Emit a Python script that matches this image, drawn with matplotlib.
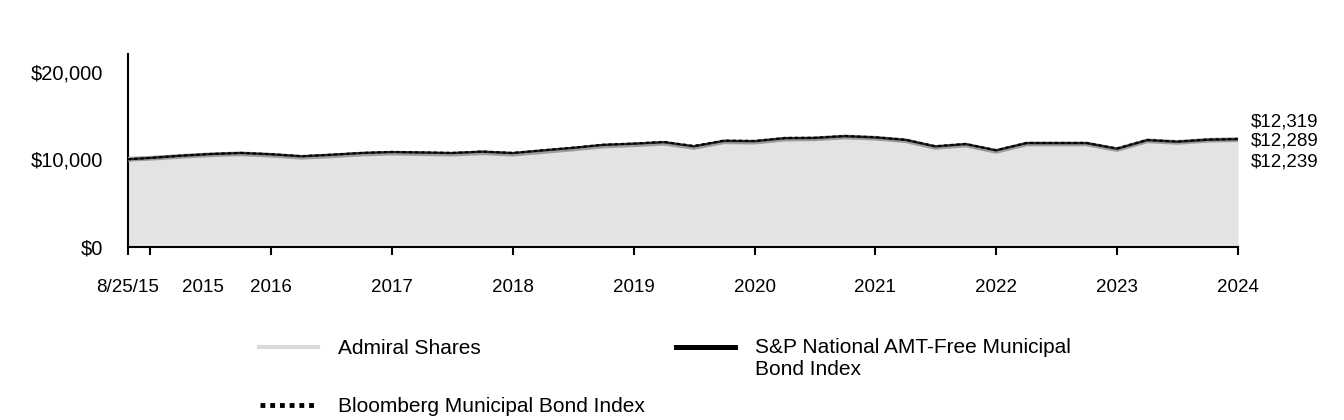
import matplotlib
matplotlib.use('Agg')
import matplotlib.pyplot as plt
import matplotlib.dates as mdates
from matplotlib.lines import Line2D
import pandas as pd

plt.rcParams['font.family'] = ['Liberation Sans', 'DejaVu Sans']

# growth of $10,000, quarterly (fiscal year ends Oct 31)
dates = pd.to_datetime(['2015-08-25']).append(
    pd.date_range('2015-10-31', '2024-10-31', freq='3ME'))

admiral = [10000, 10110, 10330, 10510, 10620, 10460, 10230, 10390, 10590, 10700,
           10640, 10580, 10740, 10580, 10880, 11170, 11510, 11650, 11830, 11350,
           11990, 11950, 12300, 12330, 12540, 12400, 12110, 11350, 11620, 10900,
           11740, 11745, 11750, 11110, 12100, 11920, 12160, 12239]
sp_amt = [10000, 10150, 10395, 10590, 10712, 10560, 10335, 10505, 10708, 10820,
          10762, 10703, 10860, 10700, 11005, 11290, 11630, 11765, 11945, 11470,
          12090, 12055, 12395, 12420, 12625, 12480, 12195, 11455, 11720, 11010,
          11835, 11835, 11835, 11195, 12175, 11995, 12222, 12289]
bloomberg = [10000, 10159, 10409, 10603, 10728, 10581, 10353, 10523, 10728, 10842,
             10785, 10728, 10887, 10728, 11035, 11320, 11661, 11798, 11979, 11525,
             12138, 12093, 12434, 12457, 12662, 12515, 12230, 11490, 11752, 11035,
             11866, 11866, 11866, 11229, 12207, 12025, 12252, 12319]

tick_years = list(range(2015, 2025))
tick_labels = ['8/25/15', '', '2016', '2017', '2018', '2019', '2020', '2021', '2022', '2023', '2024']
y_ticks = [0, 10000, 20000]
y_labels = ['$0', '$10,000', '$20,000']

W, H = 1344, 420
fig = plt.figure(figsize=(W / 100, H / 100), dpi=100)
ax = fig.add_axes([128 / W, 1 - 247 / H, (1238 - 128) / W, (247 - 54) / H])

ax.fill_between(dates, 0, admiral, color='#e3e3e3', lw=0, zorder=1)
ax.fill_between(dates, admiral, sp_amt, color='#a8a8a8', lw=0, zorder=2)
ax.plot(dates, admiral, color='#9c9c9c', lw=3.4, zorder=3)
ax.plot(dates, sp_amt, color='#222222', lw=1.6, zorder=4)
ax.plot(dates, bloomberg, color='black', lw=1.5, ls=(0, (1.5, 1.5)), zorder=5)

ax.set_xlim(dates[0], dates[-1])
ax.set_ylim(0, 22000)

tick_dates = [dates[0]] + [pd.Timestamp(f'{y}-10-31') for y in tick_years]
ax.set_xticks(tick_dates)
ax.set_xticklabels(tick_labels, fontsize=13.5)
ax.tick_params(axis='x', length=6, width=1.5, color='black', pad=17)
# the 2015 label sits off its tick in the original
ax.annotate('2015', xy=(mdates.date2num(tick_dates[1]), 0), xycoords=('data', 'axes fraction'),
            xytext=(38, -29), textcoords='offset points', ha='center', va='center', fontsize=13.5)

ax.set_yticks(y_ticks)
ax.set_yticklabels(y_labels, fontsize=14.5)
ax.tick_params(axis='y', length=0, pad=18)

for s in ['top', 'right']:
    ax.spines[s].set_visible(False)
ax.spines['left'].set_linewidth(1.5)
ax.spines['bottom'].set_linewidth(1.5)

# end value labels
ends = [(bloomberg[-1], 12), (sp_amt[-1], -1.5), (admiral[-1], -16)]
for val, dy in ends:
    ax.annotate(f'${val:,.0f}', xy=(mdates.date2num(dates[-1]), val), xytext=(9, dy),
                textcoords='offset points', ha='left', va='center', fontsize=13.5,
                annotation_clip=False)

# legend
def fx(px):
    return px / W

def fy(py):
    return 1 - py / H

fig.add_artist(Line2D([fx(259), fx(318)], [fy(347), fy(347)], color='#d9d9d9', lw=3, transform=fig.transFigure))
fig.add_artist(Line2D([fx(676), fx(735)], [fy(347), fy(347)], color='black', lw=3.6, transform=fig.transFigure))
fig.add_artist(Line2D([fx(260), fx(314)], [fy(405), fy(405)], color='black', lw=3.5, ls=(0, (1, 1)),
                      transform=fig.transFigure))
fig.text(fx(338), fy(348), 'Admiral Shares', fontsize=15, va='center')
fig.text(fx(755), fy(338), 'S&P National AMT-Free Municipal\nBond Index', fontsize=15, va='top',
         linespacing=1.2)
fig.text(fx(338), fy(406), 'Bloomberg Municipal Bond Index', fontsize=15, va='center')

fig.savefig('out.png', dpi=100)
